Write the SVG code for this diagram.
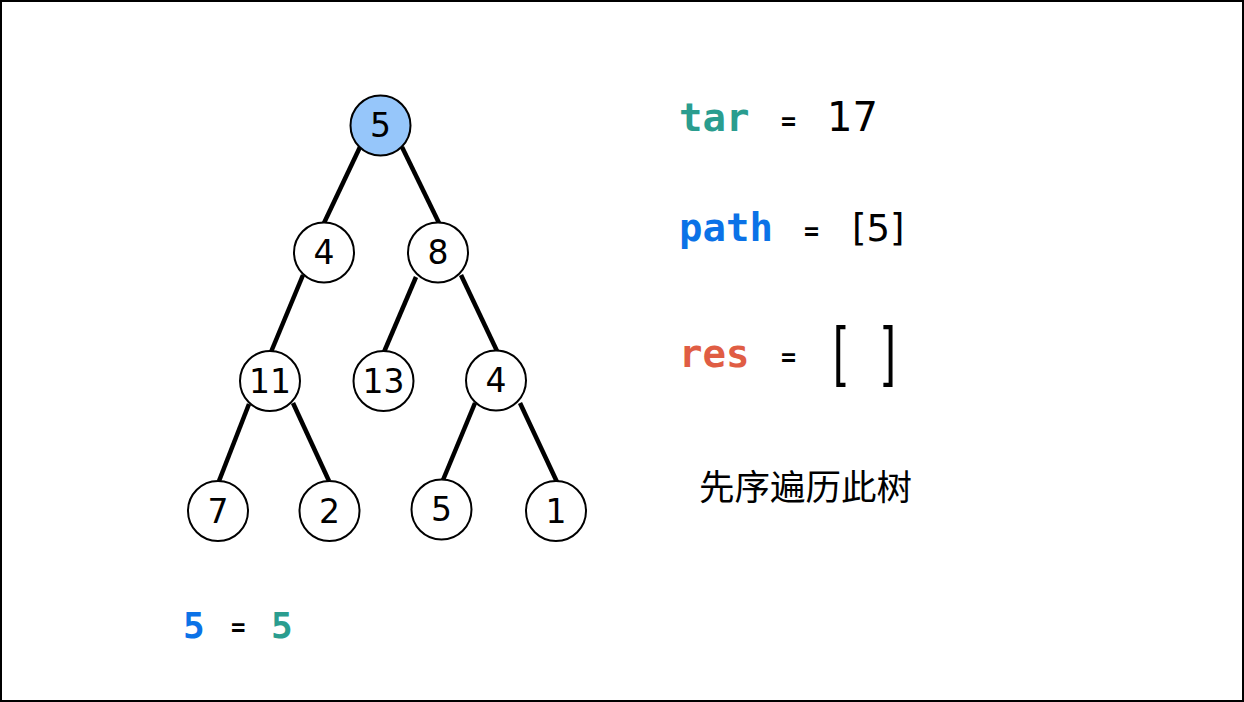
<svg xmlns="http://www.w3.org/2000/svg" width="1244" height="702" viewBox="0 0 1244 702">
<style>
.n circle{fill:#fff;stroke:#000;stroke-width:2}
.n text{font-family:"DejaVu Sans","Noto Sans",sans-serif;font-size:33px;fill:#000;text-anchor:middle}
.e line{stroke:#000;stroke-width:4.5}
.code{font-family:"DejaVu Sans Mono","Liberation Mono",monospace;font-weight:bold}
.val{font-family:"DejaVu Sans","Noto Sans",sans-serif;fill:#000}
.br{font-family:"Liberation Sans",Arial,sans-serif;fill:#000;font-size:42px}
</style>
<rect x="1" y="1" width="1242" height="700" fill="#fff" stroke="#000" stroke-width="2"/>
<g id="connectors" class="e">
<line x1="360" y1="147" x2="324" y2="223"/>
<line x1="402" y1="147" x2="439" y2="223"/>
<line x1="303" y1="275" x2="271" y2="352"/>
<line x1="416" y1="277" x2="384" y2="352"/>
<line x1="461" y1="275" x2="497" y2="351"/>
<line x1="249" y1="404" x2="219" y2="481"/>
<line x1="293" y1="403" x2="329" y2="481"/>
<line x1="475" y1="403" x2="443" y2="480"/>
<line x1="520" y1="403" x2="557" y2="482"/>
</g>
<g id="n_root" class="n"><circle cx="380.5" cy="125.5" r="30" style="fill:#96c6fa"/><text x="380.5" y="137">5</text></g>
<g id="n_4a" class="n"><circle cx="324" cy="252.5" r="30"/><text x="324" y="264">4</text></g>
<g id="n_8" class="n"><circle cx="438" cy="252.5" r="30"/><text x="438" y="264">8</text></g>
<g id="n_11" class="n"><circle cx="270" cy="381" r="30"/><text x="270" y="392.5">11</text></g>
<g id="n_13" class="n"><circle cx="383.5" cy="381" r="30"/><text x="383.5" y="392.5">13</text></g>
<g id="n_4b" class="n"><circle cx="496" cy="380.5" r="30"/><text x="496" y="392">4</text></g>
<g id="n_7" class="n"><circle cx="218" cy="511" r="30"/><text x="218" y="522.5">7</text></g>
<g id="n_2" class="n"><circle cx="329.5" cy="511" r="30"/><text x="329.5" y="522.5">2</text></g>
<g id="n_5" class="n"><circle cx="441.5" cy="509.5" r="30"/><text x="441.5" y="521">5</text></g>
<g id="n_1" class="n"><circle cx="556" cy="511" r="30"/><text x="556" y="522.5">1</text></g>
<g id="vars">
<text class="code" x="679" y="131" fill="#2a9d8f" style="font-size:39px">tar</text>
<text class="code" x="781" y="130" fill="#000" style="font-size:25px">=</text>
<text class="val" x="827" y="131" style="font-size:40px">17</text>
<text class="code" x="679" y="241" fill="#0b72e7" style="font-size:39px">path</text>
<text class="code" x="804" y="240" fill="#000" style="font-size:25px">=</text>
<text class="val" x="852" y="241" style="font-size:37px">[5]</text>
<text class="code" x="679" y="367" fill="#e05d44" style="font-size:39px">res</text>
<text class="code" x="781" y="366" fill="#000" style="font-size:25px">=</text>
<text class="br" transform="translate(833,373) scale(1.1,1.6)">[</text>
<text class="br" transform="translate(883,373) scale(1.1,1.6)">]</text>
</g>
<text x="699" y="500" font-family="'Noto Sans CJK SC',sans-serif" font-size="35.5" fill="#000">先序遍历此树</text>
<g id="eq">
<text class="code" x="183" y="638" fill="#0b72e7" style="font-size:36px">5</text>
<text class="code" x="231" y="636" fill="#000" style="font-size:24px">=</text>
<text class="code" x="271" y="638" fill="#2a9d8f" style="font-size:36px">5</text>
</g>
</svg>
